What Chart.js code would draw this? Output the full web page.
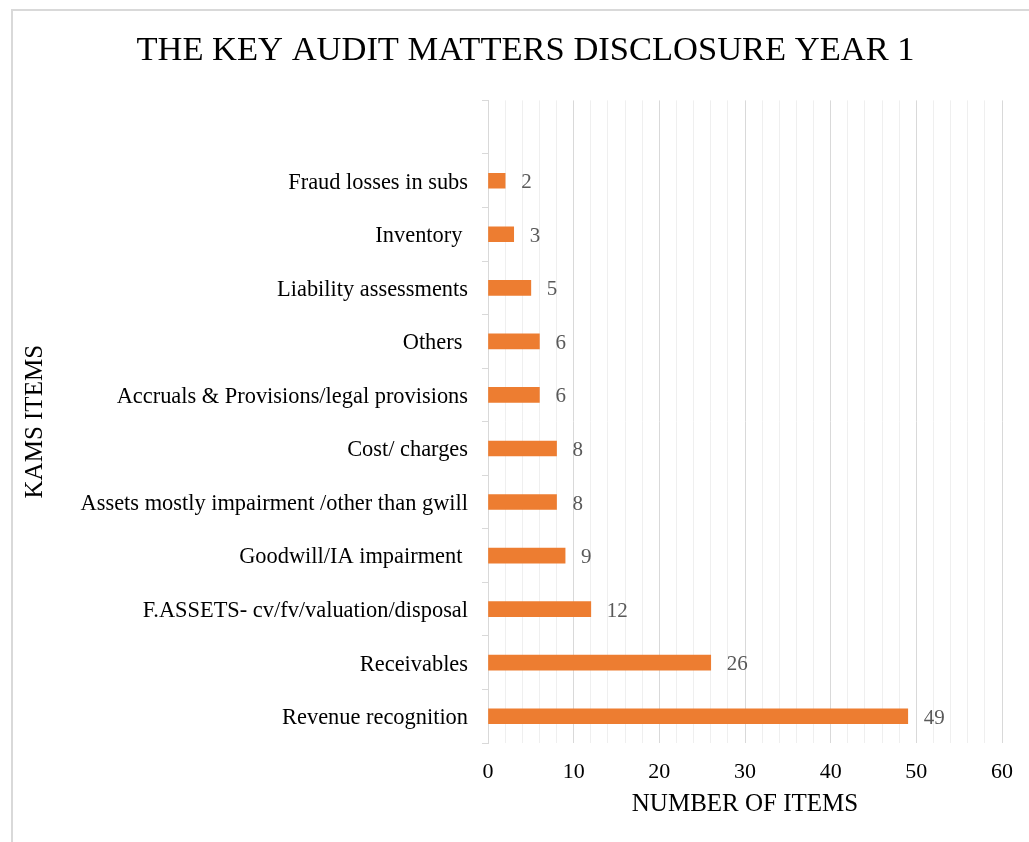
<!DOCTYPE html>
<html>
<head>
<meta charset="utf-8">
<script src="https://cdn.jsdelivr.net/npm/chart.js@4"></script>
<style>
  body { margin: 0; background: #fff; overflow: hidden; }
  #frame { position: absolute; left: 11px; top: 9px; width: 1100px; height: 900px; border: 2px solid #d9d9d9; box-sizing: border-box; }
  #kamChart { position: absolute; left: 0; top: 0; }
</style>
</head>
<body>
<div id="frame"></div>
<canvas id="kamChart" width="1029" height="842"></canvas>
<script>
// the first category is an empty row, as in the original sheet
let kamItems = [
    "",
    "Fraud losses in subs",
    "Inventory ",
    "Liability assessments",
    "Others ",
    "Accruals & Provisions/legal provisions",
    "Cost/ charges",
    "Assets mostly impairment /other than gwill",
    "Goodwill/IA impairment ",
    "F.ASSETS- cv/fv/valuation/disposal",
    "Receivables",
    "Revenue recognition"
];
let itemCounts = [null, 2, 3, 5, 6, 6, 8, 8, 9, 12, 26, 49];
let xTicks = [0, 10, 20, 30, 40, 50, 60];

const serif = "'Liberation Serif', 'Times New Roman', serif";

// numbers written just past the end of each bar
const valueLabels = {
    id: "valueLabels",
    afterDatasetsDraw(chart) {
        const ctx = chart.ctx;
        const meta = chart.getDatasetMeta(0);
        ctx.save();
        ctx.font = "21px " + serif;
        ctx.fillStyle = "#595959";
        ctx.textAlign = "left";
        ctx.textBaseline = "middle";
        meta.data.forEach((bar, i) => {
            if (itemCounts[i] == null) return;
            ctx.fillText(itemCounts[i], bar.x + 16, bar.y + 2);
        });
        ctx.restore();
    }
};

const ctx = document.getElementById("kamChart").getContext("2d");

let chart = new Chart(ctx, {
    type: "bar",
    data: {
        labels: kamItems,
        datasets: [{
            data: itemCounts,
            backgroundColor: "#ED7D31",
            barThickness: 15
        }]
    },
    plugins: [valueLabels],
    options: {
        indexAxis: "y",
        responsive: false,
        animation: false,
        // extra left padding pushes the title's centre right, like the original
        layout: { padding: { left: 46, right: 24, top: 0, bottom: 0 } },
        plugins: {
            legend: { display: false },
            tooltip: { enabled: false },
            title: {
                display: true,
                text: "THE KEY AUDIT MATTERS DISCLOSURE YEAR 1",
                color: "#000",
                font: { family: serif, size: 34.5, weight: "normal" },
                padding: { top: 30, bottom: 29 }
            }
        },
        scales: {
            x: {
                min: 0,
                max: 60,
                ticks: {
                    stepSize: 2,
                    autoSkip: false,
                    maxRotation: 0,
                    color: "#000",
                    font: { family: serif, size: 22 },
                    padding: 16,
                    callback: v => xTicks.includes(v) ? v : ""
                },
                grid: {
                    drawTicks: false,
                    color: c => (c.tick && c.tick.value % 10 === 0) ? "#d9d9d9" : "#efefef",
                    lineWidth: 1
                },
                border: { display: false },
                title: {
                    display: true,
                    text: "NUMBER OF ITEMS",
                    color: "#000",
                    font: { family: serif, size: 25 },
                    padding: { top: 0, bottom: 23 }
                },
                afterFit: s => { s.height = 99; }
            },
            y: {
                ticks: {
                    color: "#000",
                    font: { family: serif, size: 22.4 },
                    padding: 14,
                    labelOffset: 2,
                    autoSkip: false
                },
                grid: {
                    offset: true,
                    drawOnChartArea: false,
                    tickLength: 6,
                    color: "#d9d9d9"
                },
                border: { color: "#d9d9d9" },
                title: {
                    display: true,
                    text: "KAMS ITEMS",
                    color: "#000",
                    font: { family: serif, size: 25 },
                    padding: { top: -26, bottom: 0 }
                },
                afterFit: s => { s.width = 442; }
            }
        }
    }
});
</script>
</body>
</html>
